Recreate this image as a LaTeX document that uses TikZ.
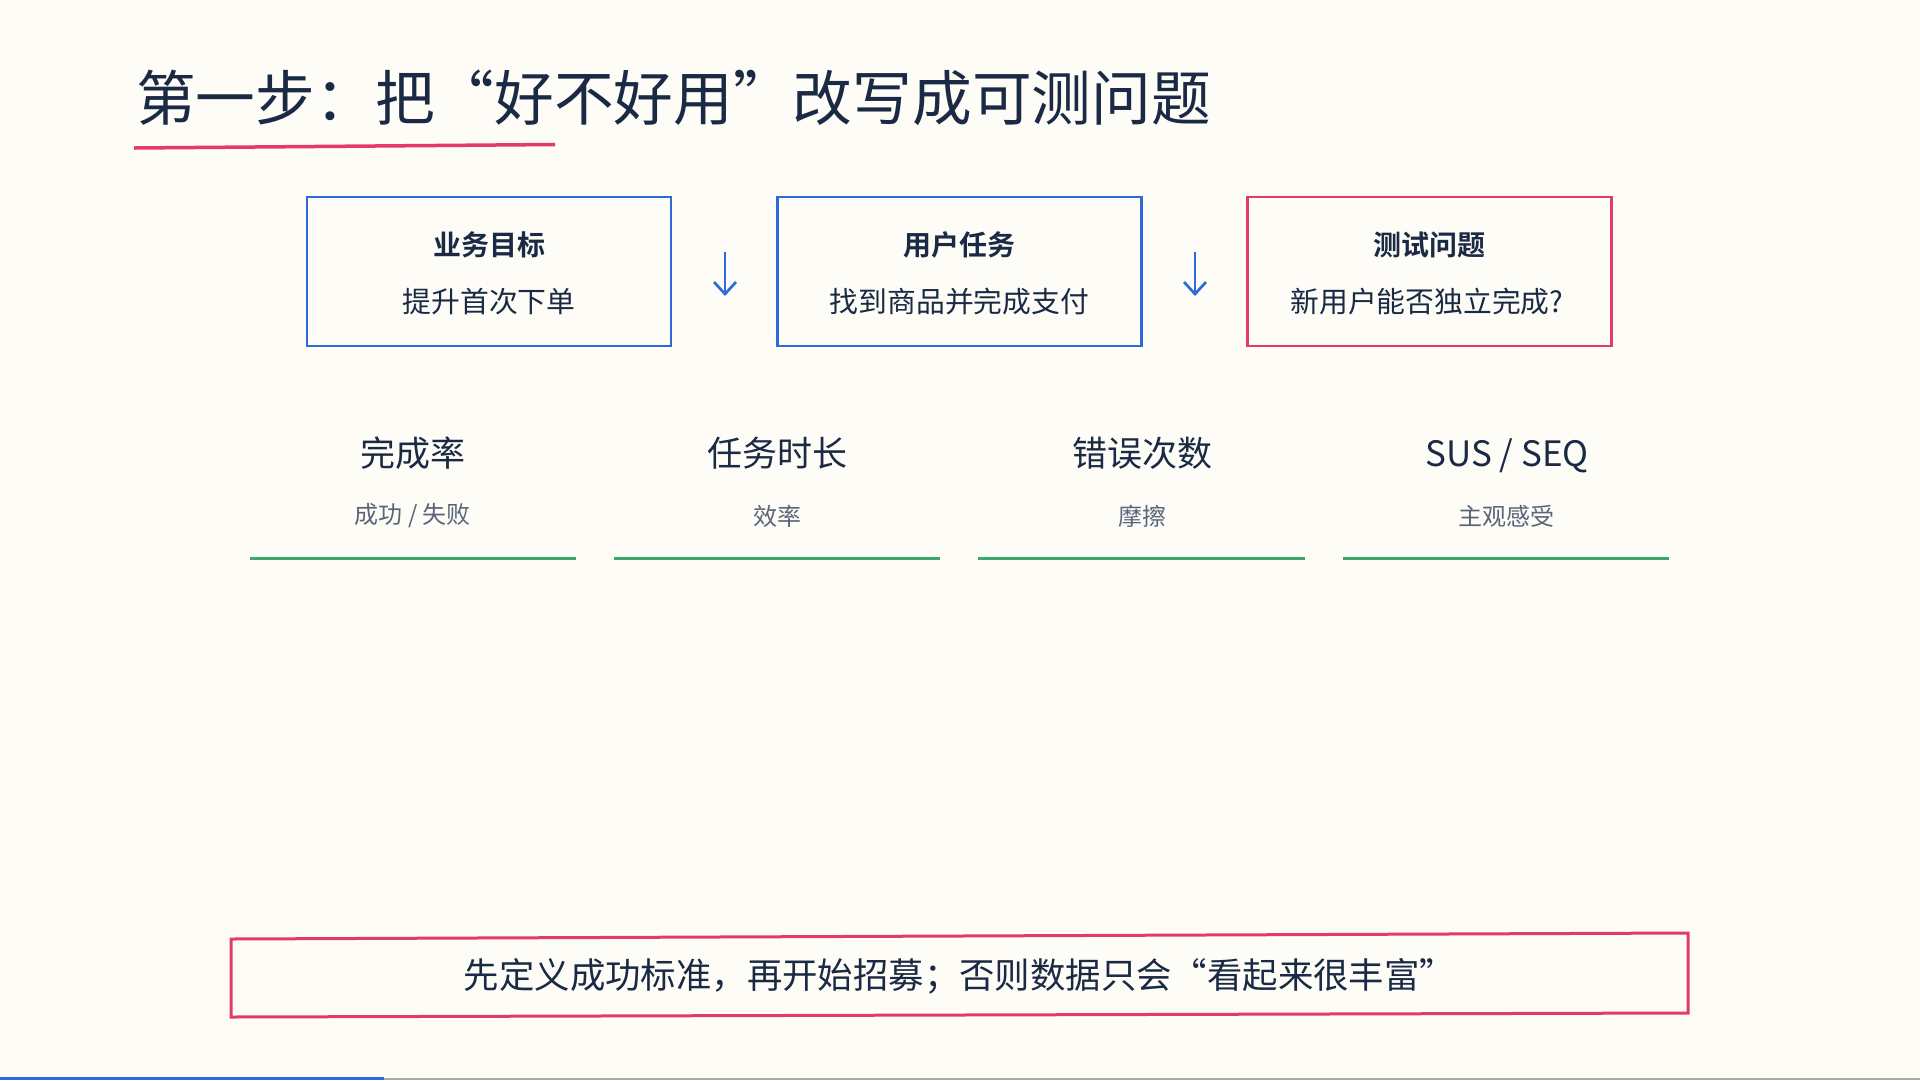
\documentclass[tikz,border=0pt]{standalone}
\usepackage{fontspec}
\setmainfont{Noto Sans CJK SC}
\newfontfamily\cjkbold{Noto Sans CJK SC Bold}
\usetikzlibrary{arrows.meta}
\definecolor{bgc}{HTML}{FDFCF7}
\definecolor{ink}{HTML}{1B2A44}
\definecolor{subg}{HTML}{5B6579}
\definecolor{bluec}{HTML}{2F6BD8}
\definecolor{pinkc}{HTML}{E5396E}
\definecolor{greenc}{HTML}{3AA76D}
\definecolor{greyl}{HTML}{AAAAAA}
\tikzset{
  stepbox/.style={draw=bluec, line width=2.5pt, minimum width=364pt, minimum height=149pt, inner sep=0pt},
  qbox/.style={stepbox, draw=pinkc},
  boxtitle/.style={text=ink, font=\cjkbold\fontsize{28}{30}\selectfont, inner sep=0pt},
  boxsub/.style={text=ink, font=\fontsize{28.8}{30}\selectfont, inner sep=0pt},
  mtitle/.style={text=ink, font=\fontsize{35}{38}\selectfont, inner sep=0pt},
  msub/.style={text=subg, font=\fontsize{24}{26}\selectfont, inner sep=0pt},
  greenline/.style={draw=greenc, line width=3pt},
  downarrow/.style={draw=bluec, line width=2.7pt, -{Straight Barb[length=12pt,width=22pt,line width=2.7pt]}},
}
\begin{document}
\begin{tikzpicture}[x=1pt,y=-1pt]
\useasboundingbox (0,0) rectangle (1920,1080);
\fill[bgc] (0,0) rectangle (1920,1080);
% title
\node[anchor=west, text=ink, font=\fontsize{59.7}{64}\selectfont, inner sep=0pt] (title) at (136,98) {第一步：把“好不好用”改写成可测问题};
\draw[pinkc, line width=3.5pt] (134,148) -- (555,144.5);
% step boxes
\node[stepbox] (b1) at (489,271.5) {};
\node[stepbox] (b2) at (959.5,271.5) {};
\node[qbox] (b3) at (1429.5,271.5) {};
\node[boxtitle] (b1t) at (489,245) {业务目标};
\node[boxsub] (b1s) at (489,302) {提升首次下单};
\node[boxtitle] (b2t) at (959.5,245) {用户任务};
\node[boxsub] (b2s) at (959.5,302) {找到商品并完成支付};
\node[boxtitle] (b3t) at (1429.5,245) {测试问题};
\node[boxsub] (b3s) at (1427,302) {新用户能否独立完成?};
% arrows
\coordinate (a1s) at (725,252);
\coordinate (a1e) at (725,296);
\coordinate (a2s) at (1195,252);
\coordinate (a2e) at (1195,296);
\draw[downarrow] (a1s) -- (a1e);
\draw[downarrow] (a2s) -- (a2e);
% metrics
\node[mtitle] (m1) at (412.7,453) {完成率};
\node[msub] (m1s) at (412.7,516) {成功 / 失败};
\node[mtitle] (m2) at (777.5,453) {任务时长};
\node[msub] (m2s) at (777.5,516) {效率};
\node[mtitle] (m3) at (1142.5,453) {错误次数};
\node[msub] (m3s) at (1142.5,516) {摩擦};
\node[mtitle] (m4) at (1507,455.5) {SUS / SEQ};
\node[msub] (m4s) at (1506,516) {主观感受};
\draw[greenline] (250,558) -- (575.5,558);
\draw[greenline] (613.5,558) -- (940,558);
\draw[greenline] (978,558) -- (1305,558);
\draw[greenline] (1343,558) -- (1669,558);
% bottom note
\draw[pinkc, line width=3pt] (231,939) -- (1688,933) -- (1688,1013) -- (231,1017) -- cycle;
\node[text=ink, font=\fontsize{35.4}{38}\selectfont, inner sep=0pt] (note) at (959.5,976) {先定义成功标准，再开始招募；否则数据只会“看起来很丰富”};
% bottom bars
\draw[greyl, line width=1.5pt] (0,1079) -- (1920,1079);
\draw[bluec, line width=3pt] (0,1078.5) -- (384,1078.5);
\end{tikzpicture}
\end{document}
